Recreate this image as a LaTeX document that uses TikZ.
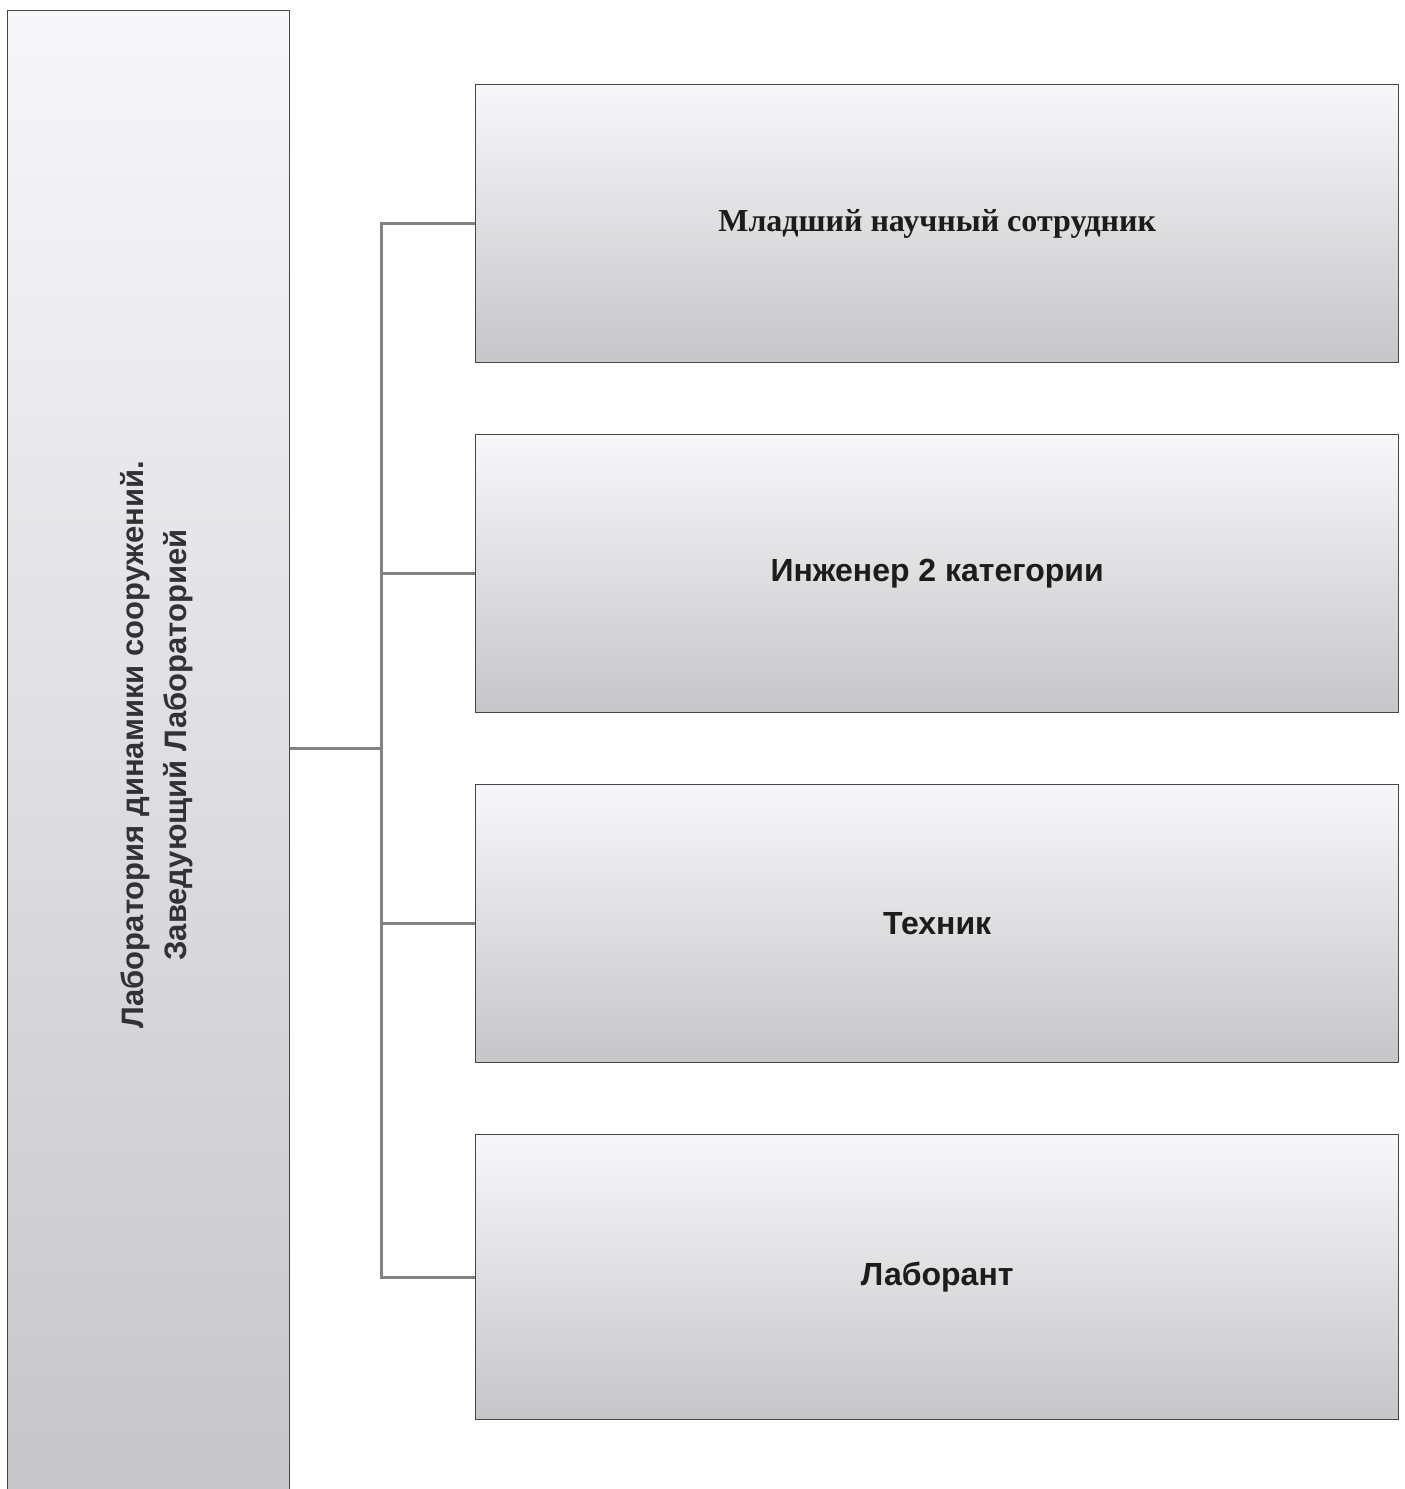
\documentclass[tikz,border=0pt]{standalone}
\usepackage{fontspec}
\setmainfont{Liberation Sans}
\newfontfamily\timesfont{Liberation Serif}
\usepackage{tikz}
\definecolor{boxtop}{RGB}{247,247,249}
\definecolor{boxmid}{RGB}{238,238,240}
\definecolor{boxbot}{RGB}{198,198,200}
\definecolor{boxline}{RGB}{70,70,72}
\definecolor{linkgray}{RGB}{130,130,130}
\definecolor{txtdark}{RGB}{28,28,28}
\definecolor{txtgray}{RGB}{50,50,52}
\tikzset{
  headbox/.style={draw=boxline, line width=1.3pt, top color=boxtop, middle color=boxmid, bottom color=boxbot,
    minimum width=282pt, minimum height=1495pt, inner sep=0pt, anchor=north west},
  staffbox/.style={draw=boxline, line width=1.3pt, top color=boxtop, middle color=boxmid, bottom color=boxbot,
    minimum width=923pt, minimum height=278pt, inner sep=0pt, anchor=north west,
    font=\fontsize{32}{38}\selectfont\bfseries, text=txtdark},
  link/.style={draw=linkgray, line width=3pt}
}

\begin{document}
\begin{tikzpicture}[x=1pt,y=-1pt]
        \useasboundingbox (0,0) rectangle (1405,1489);
        \clip (0,0) rectangle (1405,1489);
        \fill[white] (0,0) rectangle (1405,1489);

        % head of the laboratory
        \node[headbox] (head) at (7,10) {};
        \node[rotate=90, align=center, text=txtgray, font=\fontsize{31}{43}\selectfont\bfseries] (headtext) at (157,745)
            {Лаборатория динамики сооружений.\\Заведующий Лабораторией};

        % staff boxes
        \node[staffbox] (jrs) at (475,84) {\timesfont\bfseries Младший научный сотрудник};
        \node[staffbox] (eng) at (475,434) {Инженер 2 категории};
        \node[staffbox] (tech) at (475,784) {Техник};
        \node[staffbox, minimum height=285pt] (lab) at (475,1134) {Лаборант};

        % connectors
        \coordinate (bus) at (381,748);
        \draw[link] (head.east |- bus) -- (bus);
        \draw[link] (bus) |- (jrs.west);
        \draw[link] (bus) |- (eng.west);
        \draw[link] (bus) |- (tech.west);
        \draw[link] (bus) |- (lab.west);
    \end{tikzpicture}
\end{document}
